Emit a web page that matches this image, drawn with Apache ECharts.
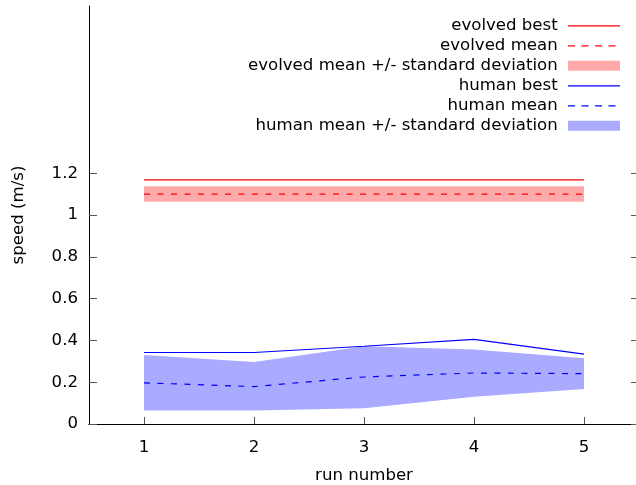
<!DOCTYPE html>
<html><head><meta charset="utf-8">
<script src="https://cdn.jsdelivr.net/npm/echarts@6/dist/echarts.min.js"></script>
<style>html,body{margin:0;padding:0;background:#fff}#c{width:636px;height:485px}</style>
</head><body><div id="c"></div>
<script>
// ---- data ----
const runs = ['1', '2', '3', '4', '5'];
const yTicks = [0, 0.2, 0.4, 0.6, 0.8, 1.0, 1.2];
const evolvedBest = [1.168, 1.168, 1.168, 1.168, 1.168];
const evolvedMean = [1.100, 1.100, 1.100, 1.100, 1.100];
const evolvedLow = [1.063, 1.063, 1.063, 1.063, 1.063];
const evolvedHigh = [1.137, 1.137, 1.137, 1.137, 1.137];
const humanBest = [0.342, 0.342, 0.372, 0.405, 0.334];
const humanMean = [0.197, 0.179, 0.225, 0.244, 0.241];
const humanLow = [0.064, 0.064, 0.075, 0.130, 0.167];
const humanHigh = [0.330, 0.297, 0.372, 0.356, 0.315];
const seriesNames = ['evolved best', 'evolved mean', 'evolved mean +/- standard deviation',
  'human best', 'human mean', 'human mean +/- standard deviation'];

const FONT = 'DejaVu Sans';
const FS = 16.6;
const RED = '#ff0000', BLUE = '#0000ff', PINK = '#ffaaaa', LBLUE = '#aaaaff';
const diff = (hi, lo) => hi.map((v, i) => +(v - lo[i]).toFixed(4));

const solidIcon = 'path://M0,0L0,10L0,0Z M52,0L52,10L52,0Z M0,4.5h52v1.2h-52Z';
const dashIcon = 'path://M0,0L0,10L0,0Z M52,0L52,10L52,0Z M0,4.5h7v1.2h-7Z M13.5,4.5h7v1.2h-7Z M27,4.5h7v1.2h-7Z M40.5,4.5h7v1.2h-7Z';
const legendIcons = [solidIcon, dashIcon, 'rect', solidIcon, dashIcon, 'rect'];
const legendColors = [RED, RED, PINK, BLUE, BLUE, LBLUE];

const chart = echarts.init(document.getElementById('c'), null, {renderer: 'canvas'});
const mkLine = (name, data, col, dashed) => ({
  name, type: 'line', data, symbol: 'none', showSymbol: false, silent: true, z: 5,
  itemStyle: {color: col},
  lineStyle: {color: col, width: 1.2, opacity: 1, type: dashed ? [6, 7.5] : 'solid'}
});
const band = (name, stack, lo, hi, col) => ([
  {name: name + ' low', type: 'line', stack, data: lo, symbol: 'none', silent: true,
   lineStyle: {width: 0, opacity: 0}, z: 1},
  {name, type: 'line', stack, data: diff(hi, lo), symbol: 'none', silent: true,
   itemStyle: {color: col},
   lineStyle: {width: 0, opacity: 0}, areaStyle: {color: col, opacity: 1}, z: 1}
]);

chart.setOption({
  animation: false,
  backgroundColor: '#fff',
  textStyle: {fontFamily: FONT},
  grid: {left: 89, right: -3, top: 6, bottom: 61, containLabel: false, outerBoundsMode: 'none'},
  legend: {
    orient: 'vertical', align: 'right', right: 16, top: 16, padding: 0,
    itemWidth: 52, itemHeight: 10, itemGap: 0.5,
    formatter: '{name} ',
    textStyle: {fontFamily: FONT, fontSize: FS, color: '#000', lineHeight: 19.5},
    selectedMode: false,
    data: seriesNames.map((n, i) => ({
      name: n, icon: legendIcons[i],
      itemStyle: {color: legendColors[i], borderWidth: 0, borderColor: 'transparent', opacity: 1}
    }))
  },
  xAxis: [{
    type: 'category', data: runs, boundaryGap: true, position: 'bottom',
    name: 'run number', nameLocation: 'middle', nameGap: 43,
    nameTextStyle: {fontFamily: FONT, fontSize: FS, color: '#000'},
    axisLine: {show: true, lineStyle: {color: '#000', width: 1}},
    axisTick: {show: true, inside: true, length: 7, alignWithLabel: true, lineStyle: {color: '#555'}},
    axisLabel: {fontFamily: FONT, fontSize: FS, color: '#000', margin: 15},
    splitLine: {show: false}
  }, {
    type: 'category', data: runs, boundaryGap: true, position: 'top',
    axisLine: {show: true, lineStyle: {color: '#000', width: 1}},
    axisTick: {show: false}, axisLabel: {show: false}, splitLine: {show: false}
  }],
  yAxis: [{
    type: 'value', min: 0, max: 2, interval: 0.2, position: 'left',
    name: 'speed (m/s)', nameLocation: 'middle', nameRotate: 90, nameGap: 62,
    nameTextStyle: {fontFamily: FONT, fontSize: FS, color: '#000'},
    axisLine: {show: true, lineStyle: {color: '#000', width: 1}},
    axisTick: {show: true, inside: true, length: 8, customValues: yTicks, lineStyle: {color: '#555'}},
    axisLabel: {fontFamily: FONT, fontSize: FS, color: '#000', margin: 11, customValues: yTicks},
    splitLine: {show: false}
  }, {
    type: 'value', min: 0, max: 2, interval: 0.2, position: 'right',
    axisLine: {show: true, lineStyle: {color: '#000', width: 1}},
    axisTick: {show: true, inside: true, length: 8, customValues: yTicks, lineStyle: {color: '#555'}},
    axisLabel: {show: false}, splitLine: {show: false}
  }],
  series: [
    ...band(seriesNames[2], 'ev', evolvedLow, evolvedHigh, PINK),
    ...band(seriesNames[5], 'hu', humanLow, humanHigh, LBLUE),
    mkLine(seriesNames[0], evolvedBest, RED, false),
    mkLine(seriesNames[1], evolvedMean, RED, true),
    mkLine(seriesNames[3], humanBest, BLUE, false),
    mkLine(seriesNames[4], humanMean, BLUE, true)
  ]
});
</script></body></html>
